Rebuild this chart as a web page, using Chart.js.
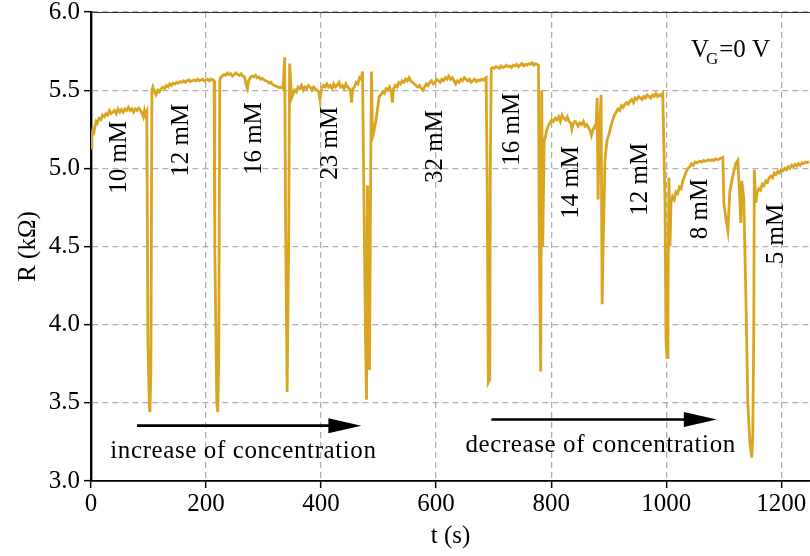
<!DOCTYPE html>
<html>
<head>
<meta charset="utf-8">
<script src="https://cdn.jsdelivr.net/npm/chart.js@4.4.1/dist/chart.umd.min.js"></script>
<style>
  html, body { margin: 0; padding: 0; background: #fff; }
  #wrap { width: 810px; height: 556px; }
</style>
</head>
<body>
<div id="wrap"><canvas id="rChart" width="810" height="556"></canvas></div>
<script>
// tempo (s) e resistencia (kOhm), um trecho por concentracao (patamar + pulso seguinte)
const t10 = [0, 1.5, 3, 5, 7, 9, 11, 14, 17, 20, 23, 26, 29, 32, 35, 38, 41, 44, 47, 50, 53, 56, 59, 62, 65, 68, 71, 74, 77, 80, 83, 86, 89, 91, 93, 95, 97,
  98.9, 101.5, 102.4, 104.1, 105.9];
const r10 = [5.13, 5.20, 5.24, 5.23, 5.27, 5.30, 5.29, 5.32, 5.31, 5.34, 5.33, 5.35, 5.34, 5.37, 5.35, 5.36, 5.37, 5.35, 5.38, 5.36, 5.375, 5.36, 5.38, 5.37, 5.39, 5.37, 5.38, 5.36, 5.38, 5.37, 5.385, 5.37, 5.35, 5.33, 5.37, 5.34, 5.36,
  3.9, 3.47, 3.44, 3.7, 5.50];

const t12 = [107.6, 110, 113, 116, 119, 122, 125, 128, 131, 134, 137, 140, 143, 146, 149, 152, 155, 158, 161, 164, 167, 170, 173, 176, 179, 182, 185, 188, 191, 194, 197, 200, 203, 206, 209, 212, 214,
  215.2, 218.7, 220.4, 222.1, 223.9];
const r12 = [5.52, 5.49, 5.47, 5.50, 5.49, 5.51, 5.52, 5.51, 5.53, 5.52, 5.54, 5.53, 5.545, 5.54, 5.55, 5.545, 5.555, 5.55, 5.56, 5.55, 5.56, 5.565, 5.555, 5.56, 5.565, 5.56, 5.57, 5.56, 5.565, 5.57, 5.56, 5.565, 5.57, 5.56, 5.57, 5.565, 5.56,
  4.5, 3.50, 3.44, 3.8, 5.56];

const t16 = [225, 228, 231, 234, 237, 240, 243, 246, 249, 252, 255, 258, 261, 264, 267, 270, 272, 274, 277, 280, 283, 286, 289, 292, 295, 298, 301, 304, 307, 310, 313, 316, 319, 322, 325, 328, 331, 334,
  336.7, 338.4, 341.0, 343.6, 345.3, 348.8];
const r16 = [5.58, 5.59, 5.60, 5.595, 5.61, 5.60, 5.605, 5.59, 5.60, 5.61, 5.60, 5.595, 5.605, 5.59, 5.585, 5.53, 5.51, 5.56, 5.58, 5.59, 5.585, 5.595, 5.58, 5.585, 5.57, 5.575, 5.565, 5.56, 5.555, 5.545, 5.55, 5.535, 5.53, 5.525, 5.52, 5.515, 5.52, 5.51,
  5.71, 4.6, 3.57, 4.5, 5.67, 5.45];

const t23 = [351, 354, 357, 360, 363, 366, 369, 372, 375, 378, 381, 384, 387, 390, 393, 396, 398, 401, 404, 407, 410, 413, 416, 419, 422, 425, 428, 431, 434, 437, 440, 443, 446, 449, 451, 453, 455, 458, 461, 464, 467, 470, 472,
  475.5, 477.3, 479.0, 480.7, 482.4, 484.2, 485.9, 487.6, 489.4];
const r23 = [5.47, 5.50, 5.49, 5.52, 5.51, 5.53, 5.50, 5.52, 5.51, 5.53, 5.52, 5.50, 5.52, 5.51, 5.50, 5.49, 5.44, 5.51, 5.53, 5.52, 5.54, 5.52, 5.53, 5.51, 5.54, 5.52, 5.53, 5.55, 5.52, 5.53, 5.51, 5.54, 5.52, 5.51, 5.50, 5.42, 5.51, 5.52, 5.55, 5.54, 5.58, 5.57, 5.62,
  4.5, 3.9, 3.52, 4.89, 4.3, 3.71, 4.8, 5.62, 5.20];

const t32 = [491, 493, 495, 497, 499, 501, 504, 507, 510, 513, 516, 519, 522, 524, 526, 529, 532, 535, 538, 541, 544, 547, 550, 553, 556, 559, 562, 565, 568, 571, 574, 577, 580, 583, 586, 589, 592, 595, 598, 601, 604, 607, 610, 613, 616, 619, 622, 625, 628, 631, 634, 637, 640, 643, 646, 649, 652, 655, 658, 661, 664, 667, 670, 673, 676, 679, 682, 685, 687,
  689.0, 690.7, 693.3, 694.2, 695.9];
const r32 = [5.22, 5.26, 5.30, 5.35, 5.40, 5.46, 5.47, 5.49, 5.48, 5.51, 5.50, 5.52, 5.49, 5.42, 5.51, 5.53, 5.52, 5.55, 5.54, 5.56, 5.55, 5.57, 5.56, 5.58, 5.56, 5.55, 5.54, 5.53, 5.52, 5.53, 5.51, 5.50, 5.52, 5.54, 5.53, 5.55, 5.56, 5.54, 5.55, 5.57, 5.56, 5.55, 5.57, 5.56, 5.58, 5.57, 5.59, 5.57, 5.58, 5.56, 5.54, 5.56, 5.55, 5.57, 5.56, 5.58, 5.57, 5.56, 5.57, 5.55, 5.56, 5.57, 5.555, 5.565, 5.56, 5.57, 5.565, 5.575, 5.58,
  4.8, 3.63, 3.65, 5.0, 5.64];

const t16b = [698, 701, 704, 707, 710, 713, 716, 719, 722, 725, 728, 731, 734, 737, 740, 743, 746, 749, 752, 755, 758, 761, 764, 767, 770, 773, 776, 778,
  779.2, 781.8, 783.6, 785.3, 788.0];
const r16b = [5.645, 5.64, 5.65, 5.645, 5.64, 5.655, 5.645, 5.65, 5.66, 5.65, 5.655, 5.645, 5.66, 5.655, 5.665, 5.65, 5.66, 5.67, 5.655, 5.665, 5.66, 5.67, 5.665, 5.675, 5.66, 5.67, 5.665, 5.66,
  4.6, 3.70, 5.50, 4.5, 5.18];

const t14 = [790, 792, 795, 798, 801, 804, 807, 810, 813, 816, 819, 822, 825, 828, 831, 834, 836, 838, 841, 844, 847, 850, 853, 856, 859, 862, 865, 868, 870, 873, 876, 878,
  879.9, 881.6, 883.4, 886.8, 888.6, 890.3];
const r14 = [5.20, 5.24, 5.27, 5.29, 5.31, 5.30, 5.32, 5.31, 5.33, 5.30, 5.34, 5.32, 5.31, 5.33, 5.30, 5.29, 5.25, 5.28, 5.30, 5.29, 5.27, 5.29, 5.28, 5.30, 5.27, 5.28, 5.26, 5.24, 5.21, 5.25, 5.27, 5.26,
  5.45, 4.8, 5.2, 5.47, 4.13, 4.5];

const t12b = [893.8, 897.3, 900.7, 904, 907, 910, 913, 916, 919, 922, 925, 928, 931, 934, 937, 940, 943, 946, 949, 952, 955, 958, 961, 964, 967, 970, 973, 976, 979, 982, 985, 988, 991, 994,
  997.9, 999.6, 1001.4, 1003.1, 1004.8, 1006.6, 1008.3];
const r12b = [5.07, 5.18, 5.22, 5.27, 5.31, 5.34, 5.36, 5.38, 5.37, 5.40, 5.39, 5.41, 5.42, 5.41, 5.43, 5.44, 5.42, 5.45, 5.44, 5.46, 5.45, 5.44, 5.46, 5.45, 5.47, 5.46, 5.45, 5.47, 5.46, 5.48, 5.46, 5.47, 5.465, 5.48,
  4.8, 3.9, 3.79, 4.2, 4.94, 4.5, 4.78];

const t8 = [1011, 1014, 1017, 1020, 1023, 1026, 1029, 1032, 1035, 1038, 1041, 1044, 1047, 1050, 1053, 1056, 1059, 1062, 1065, 1068, 1071, 1074, 1077, 1080, 1083, 1086, 1089, 1092, 1095, 1098.5,
  1100.2, 1103.7, 1107.2, 1110.6, 1114.1, 1117.6, 1121.0, 1124.5, 1128.0, 1129.7, 1131.5, 1134.9,
  1138.4, 1141.9, 1145.4, 1148.8, 1150.6, 1152.3, 1153.2];
const r8 = [4.82, 4.80, 4.85, 4.84, 4.88, 4.87, 4.92, 4.95, 4.98, 5.00, 5.01, 5.03, 5.02, 5.04, 5.035, 5.04, 5.045, 5.04, 5.05, 5.045, 5.05, 5.055, 5.05, 5.055, 5.05, 5.06, 5.055, 5.06, 5.065, 5.07,
  4.78, 4.68, 4.60, 4.85, 4.92, 4.98, 5.03, 5.05, 4.8, 4.65, 4.92, 4.80,
  4.2, 3.5, 3.25, 3.15, 3.3, 4.0, 4.99];

const t5 = [1155.8, 1158, 1161, 1164, 1167, 1170, 1173, 1176, 1179, 1182, 1185, 1188, 1191, 1194, 1197, 1200, 1203, 1206, 1209, 1212, 1215, 1218, 1221, 1224, 1227, 1230, 1233, 1236, 1239, 1242, 1245, 1248];
const r5 = [4.78, 4.84, 4.87, 4.86, 4.90, 4.89, 4.92, 4.91, 4.94, 4.95, 4.94, 4.97, 4.96, 4.98, 4.97, 4.99, 4.985, 5.00, 4.99, 5.01, 5.00, 5.02, 5.01, 5.025, 5.015, 5.03, 5.02, 5.035, 5.03, 5.04, 5.035, 5.045];

const timeS = [...t10, ...t12, ...t16, ...t23, ...t32, ...t16b, ...t14, ...t12b, ...t8, ...t5];
const resistanceK = [...r10, ...r12, ...r16, ...r23, ...r32, ...r16b, ...r14, ...r12b, ...r8, ...r5];

const xTicks = [0, 200, 400, 600, 800, 1000, 1200];
const yTicks = [3.0, 3.5, 4.0, 4.5, 5.0, 5.5, 6.0];

const concentrations = ["10 mM", "12 mM", "16 mM", "23 mM", "32 mM", "16 mM", "14 mM", "12 mM", "8 mM", "5 mM"];
const arrowTexts = ["increase of concentration", "decrease of concentration"];

// posicoes das legendas (em coordenadas de dados)
const concAnchors = [
  [50, 5.07], [158, 5.18], [285, 5.19], [416, 5.16], [599, 5.14],
  [732, 5.25], [835, 4.91], [955, 4.93], [1060, 4.74], [1192, 4.58]
];

const SERIF = "'Liberation Serif', 'Times New Roman', serif";

const anotacoes = {
  id: "anotacoes",
  afterDatasetsDraw(chart) {
    const { ctx, chartArea, scales: { x, y } } = chart;
    ctx.save();

    // borda superior
    ctx.strokeStyle = "#333";
    ctx.lineWidth = 1.2;
    ctx.beginPath();
    ctx.moveTo(chartArea.left, chartArea.top + 0.5);
    ctx.lineTo(chartArea.right, chartArea.top + 0.5);
    ctx.stroke();

    ctx.fillStyle = "#000";
    ctx.font = "25px " + SERIF;
    ctx.textAlign = "center";
    ctx.textBaseline = "middle";

    concentrations.forEach((txt, i) => {
      const [t, r] = concAnchors[i];
      ctx.save();
      ctx.translate(x.getPixelForValue(t), y.getPixelForValue(r));
      ctx.rotate(-Math.PI / 2);
      ctx.fillText(txt, 0, 0);
      ctx.restore();
    });

    // setas
    const seta = (t0, t1, r) => {
      const x0 = x.getPixelForValue(t0);
      const x1 = x.getPixelForValue(t1);
      const yy = y.getPixelForValue(r);
      ctx.strokeStyle = "#000";
      ctx.lineWidth = 2.6;
      ctx.beginPath();
      ctx.moveTo(x0, yy);
      ctx.lineTo(x1 - 30, yy);
      ctx.stroke();
      ctx.beginPath();
      ctx.moveTo(x1, yy);
      ctx.lineTo(x1 - 33, yy - 7.5);
      ctx.lineTo(x1 - 33, yy + 7.5);
      ctx.closePath();
      ctx.fill();
    };
    seta(80, 470, 3.354);
    seta(696, 1088, 3.393);

    ctx.letterSpacing = "0.6px";
    ctx.fillText(arrowTexts[0], x.getPixelForValue(265), y.getPixelForValue(3.19));
    ctx.fillText(arrowTexts[1], x.getPixelForValue(886), y.getPixelForValue(3.225));
    ctx.letterSpacing = "0px";

    // V_G = 0 V
    ctx.textAlign = "left";
    ctx.textBaseline = "alphabetic";
    let px = x.getPixelForValue(1043);
    const py = y.getPixelForValue(5.712);
    ctx.font = "25px " + SERIF;
    ctx.fillText("V", px, py);
    px += ctx.measureText("V").width - 3;
    ctx.font = "17px " + SERIF;
    ctx.fillText("G", px, py + 7);
    px += ctx.measureText("G").width + 1;
    ctx.font = "25px " + SERIF;
    ctx.fillText("=0 V", px, py);

    ctx.restore();
  }
};

const pontos = timeS.map((t, i) => ({ x: t, y: resistanceK[i] }));

const tickFont = { family: SERIF, size: 25 };

new Chart(document.getElementById("rChart").getContext("2d"), {
  type: "line",
  data: {
    datasets: [{
      data: pontos,
      borderColor: "#DAA520",
      borderWidth: 2.8,
      pointRadius: 0,
      tension: 0,
      fill: false,
    }]
  },
  options: {
    responsive: false,
    animation: false,
    devicePixelRatio: 1,
    layout: { padding: { top: 12, right: 0, bottom: 0, left: 0 } },
    plugins: { legend: { display: false }, tooltip: { enabled: false } },
    scales: {
      x: {
        type: "linear",
        min: 0,
        max: 1250,
        afterBuildTicks: (s) => { s.ticks = xTicks.map(v => ({ value: v })); },
        ticks: { color: "#000", font: tickFont, padding: 1, maxRotation: 0, includeBounds: false, callback: (v) => String(v) },
        grid: { color: "#b0b0b0", lineWidth: 1.3, tickColor: "#000", tickLength: 7, tickWidth: 1.5 },
        border: { color: "#000", width: 1.8, dash: [6, 4] },
        title: { display: true, text: "t (s)", color: "#000", font: tickFont, padding: { top: 0, bottom: 5 } },
        afterFit: (s) => { s.height = 75; s.paddingLeft = 0; s.paddingRight = 0; },
      },
      y: {
        min: 3,
        max: 6,
        afterBuildTicks: (s) => { s.ticks = yTicks.map(v => ({ value: v })); },
        ticks: { color: "#000", font: tickFont, padding: 4, callback: (v) => Number(v).toFixed(1) },
        grid: { color: "#b0b0b0", lineWidth: 1.3, tickColor: "#000", tickLength: 7, tickWidth: 1.5 },
        border: { color: "#000", width: 2.4, dash: [6, 4] },
        title: { display: true, text: "R (kΩ)", color: "#000", font: tickFont, padding: { top: 13, bottom: 0 } },
        afterFit: (s) => { s.width = 91; s.paddingTop = 0; s.paddingBottom = 0; },
      }
    }
  },
  plugins: [anotacoes]
});
</script>
</body>
</html>
